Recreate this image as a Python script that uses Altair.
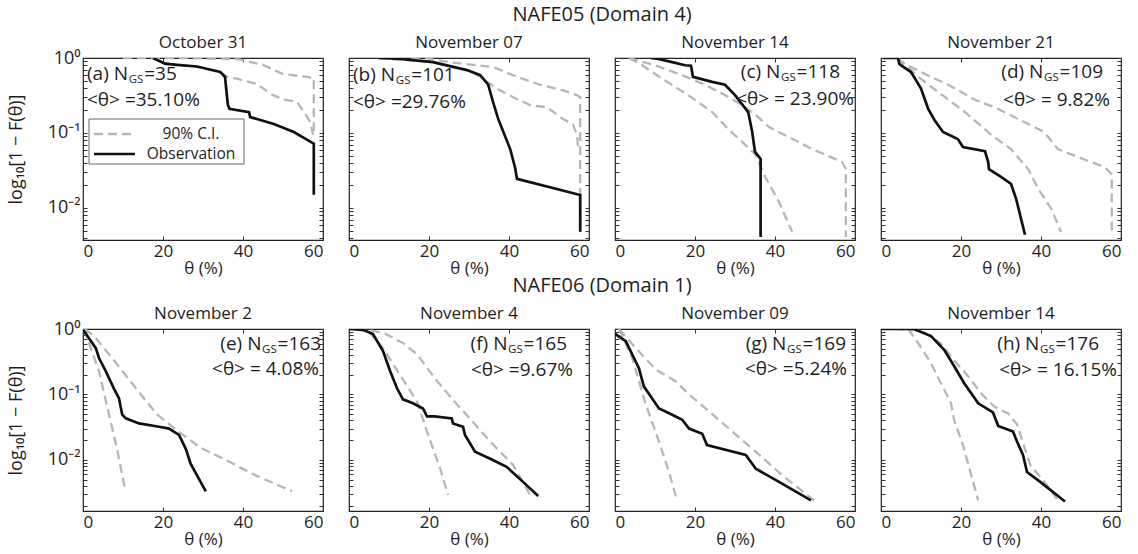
import altair as alt
import pandas as pd

FONT = "Open Sans"
TXT = "#1e1e1e"
GRAY = "#b6b6b6"
BLACK = "#111111"
W, H = 240, 182
YMIN_TOP = 0.00374
YMIN_BOT = 0.00165
AF = 19  # annotation font size

row_titles = ["NAFE05 (Domain 4)", "NAFE06 (Domain 1)"]
dates = ["October 31", "November 07", "November 14", "November 21",
         "November 2", "November 4", "November 09", "November 14"]
letters = ["a", "b", "c", "d", "e", "f", "g", "h"]
n_gs = [35, 101, 118, 109, 163, 165, 169, 176]
mean_txt = ["<θ> =35.10%", "<θ> =29.76%", "<θ> = 23.90%", "<θ> = 9.82%",
            "<θ> = 4.08%", "<θ> =9.67%", "<θ> =5.24%", "<θ> = 16.15%"]

# ---- panel (a)
a_obs_t = [17.5, 20.5, 23.5, 28.5, 34.3, 35.5, 36.2, 36.6, 41.5, 41.8, 47.7, 52.7, 57.7, 57.7]
a_obs_v = [1.0, 0.84, 0.81, 0.77, 0.65, 0.56, 0.24, 0.21, 0.19, 0.163, 0.132, 0.103, 0.072, 0.015]
a_up_t = [10, 25, 39, 45, 50, 56, 57.7, 57.7]
a_up_v = [1.0, 1.0, 0.96, 0.81, 0.61, 0.56, 0.54, 0.095]
a_lo_t = [17.5, 20.5, 28.5, 34.3, 36, 38.5, 43.5, 47, 50, 53.5, 55, 56.8, 57.5]
a_lo_v = [1.0, 0.84, 0.77, 0.65, 0.56, 0.53, 0.45, 0.33, 0.28, 0.26, 0.2, 0.14, 0.095]
# ---- panel (b)
b_obs_t = [7.3, 12.8, 21, 29.5, 32.8, 34.8, 36, 37.3, 38.6, 40.3, 41.5, 42, 57.8, 57.8]
b_obs_v = [1.0, 0.97, 0.88, 0.69, 0.59, 0.44, 0.26, 0.154, 0.103, 0.061, 0.035, 0.0245, 0.0149, 0.0048]
b_up_t = [12, 19.5, 25, 36, 42, 47.8, 53.5, 57, 57.8, 57.8]
b_up_v = [1.0, 0.99, 0.88, 0.76, 0.56, 0.44, 0.37, 0.32, 0.3, 0.0048]
b_lo_t = [7.3, 21, 29.5, 33, 35, 37, 41, 45.3, 49.5, 53.5, 56, 57, 57.3]
b_lo_v = [1.0, 0.88, 0.69, 0.56, 0.46, 0.39, 0.30, 0.236, 0.22, 0.154, 0.13, 0.094, 0.061]
# ---- panel (c)
c_obs_t = [9, 10.8, 14.3, 17.5, 19, 19.5, 24.3, 27.5, 30, 33.3, 34.3, 35, 36.4, 36.4]
c_obs_v = [1.0, 0.97, 0.88, 0.8, 0.79, 0.56, 0.48, 0.44, 0.32, 0.19, 0.103, 0.056, 0.045, 0.0041]
c_up_t = [3.5, 10, 16.8, 22.5, 27.5, 31.8, 35.8, 38.5, 43.5, 49.3, 56.8, 57.7, 57.7]
c_up_v = [1.0, 0.8, 0.59, 0.44, 0.32, 0.236, 0.163, 0.12, 0.088, 0.061, 0.041, 0.033, 0.0041]
c_lo_t = [3.5, 6.8, 11.8, 18.3, 24.3, 28.3, 31.8, 35.2, 37.3, 41, 44.3]
c_lo_v = [1.0, 0.8, 0.53, 0.32, 0.19, 0.113, 0.076, 0.051, 0.0275, 0.012, 0.0048]
# ---- panel (d)
d_obs_t = [0.5, 4.25, 4.6, 7.5, 10, 11.8, 13.4, 15.5, 19.2, 20.5, 26, 26.8, 27, 30, 32.5, 33.8, 36]
d_obs_v = [1.0, 1.0, 0.83, 0.65, 0.39, 0.21, 0.148, 0.103, 0.083, 0.065, 0.057, 0.041, 0.033, 0.026, 0.021, 0.0131, 0.0044]
d_up_t = [4.25, 5, 11, 16.8, 23.4, 29.2, 35.8, 40.8, 44.2, 51, 56, 57.7, 57.7]
d_up_v = [1.0, 0.88, 0.61, 0.44, 0.28, 0.21, 0.14, 0.103, 0.061, 0.044, 0.035, 0.028, 0.0044]
d_lo_t = [4.25, 9.3, 16, 21, 27.6, 32.5, 36.8, 39.3, 42.6, 45]
d_lo_v = [1.0, 0.56, 0.30, 0.19, 0.094, 0.061, 0.033, 0.018, 0.0097, 0.0048]
# ---- panel (e)
e_obs_t = [0, 0.25, 3.2, 4, 5.7, 7.7, 9, 9.8, 10.7, 14, 19, 21.5, 24, 25.7, 26.9, 30.7]
e_obs_v = [0.97, 0.93, 0.51, 0.36, 0.226, 0.124, 0.087, 0.049, 0.043, 0.036, 0.032, 0.030, 0.024, 0.0147, 0.0087, 0.0033]
e_up_t = [0.5, 3, 6.5, 9.8, 15.7, 18.6, 23.2, 29.4, 36.5, 42.8, 52.3]
e_up_v = [1.0, 0.75, 0.41, 0.23, 0.08, 0.049, 0.029, 0.0153, 0.0094, 0.0059, 0.0033]
e_lo_t = [0.2, 2, 4, 6.5, 8.5, 10.5]
e_lo_v = [1.0, 0.5, 0.226, 0.049, 0.0147, 0.0036]
# ---- panel (f)
f_obs_t = [0, 3.5, 6, 8.5, 10.3, 12, 13.5, 16, 18.5, 19.5, 21.4, 25.7, 26, 28.5, 29, 31.5, 35.3, 39.4, 43.5, 47.3]
f_obs_v = [1.0, 0.97, 0.84, 0.46, 0.226, 0.124, 0.084, 0.073, 0.061, 0.046, 0.046, 0.043, 0.036, 0.032, 0.024, 0.0133, 0.0104, 0.0078, 0.0046, 0.0028]
f_up_t = [2, 5, 9, 13.5, 17, 22, 27, 30.2, 35.3, 41, 45.3]
f_up_v = [1.0, 0.97, 0.85, 0.61, 0.41, 0.16, 0.070, 0.043, 0.019, 0.0084, 0.0029]
f_lo_t = [1.5, 5, 8.5, 12.7, 17, 19.5, 22.8, 24.8]
f_lo_v = [1.0, 0.9, 0.51, 0.2, 0.078, 0.027, 0.0073, 0.0029]
# ---- panel (g)
g_obs_t = [0, 2.7, 6, 7.2, 11, 14.3, 16.8, 18.5, 21.8, 23, 32.7, 35.2, 41, 49]
g_obs_v = [0.84, 0.65, 0.25, 0.133, 0.061, 0.049, 0.041, 0.030, 0.025, 0.0168, 0.0119, 0.0073, 0.0046, 0.0024]
g_up_t = [1, 5.2, 10.2, 15.2, 18.5, 23.5, 28.5, 35.2, 41.8, 49.8]
g_up_v = [1.0, 0.51, 0.24, 0.158, 0.1, 0.055, 0.030, 0.0133, 0.0058, 0.0024]
g_lo_t = [1, 4.3, 7.7, 11, 13.5, 15.5]
g_lo_v = [1.0, 0.36, 0.070, 0.019, 0.0065, 0.0024]
# ---- panel (h)
h_obs_t = [0, 8.2, 12.5, 15.8, 18.3, 20.8, 24.3, 28, 29.3, 33, 34, 35.5, 36.5, 39.8, 46]
h_obs_v = [1.0, 1.0, 0.78, 0.48, 0.27, 0.148, 0.073, 0.053, 0.033, 0.027, 0.019, 0.0119, 0.0065, 0.0046, 0.0023]
h_up_t = [3.8, 10, 15, 18.3, 21.8, 25, 28.3, 31.8, 34, 37.3, 41.5, 44]
h_up_v = [1.0, 0.95, 0.6, 0.33, 0.19, 0.104, 0.065, 0.051, 0.035, 0.0084, 0.0041, 0.0025]
h_lo_t = [6.8, 9.3, 12.5, 15, 17.5, 18.3, 20.5, 24.3]
h_lo_v = [1.0, 0.61, 0.30, 0.148, 0.073, 0.04, 0.0168, 0.0024]

panels = [
    (a_obs_t, a_obs_v, a_up_t, a_up_v, a_lo_t, a_lo_v),
    (b_obs_t, b_obs_v, b_up_t, b_up_v, b_lo_t, b_lo_v),
    (c_obs_t, c_obs_v, c_up_t, c_up_v, c_lo_t, c_lo_v),
    (d_obs_t, d_obs_v, d_up_t, d_up_v, d_lo_t, d_lo_v),
    (e_obs_t, e_obs_v, e_up_t, e_up_v, e_lo_t, e_lo_v),
    (f_obs_t, f_obs_v, f_up_t, f_up_v, f_lo_t, f_lo_v),
    (g_obs_t, g_obs_v, g_up_t, g_up_v, g_lo_t, g_lo_v),
    (h_obs_t, h_obs_v, h_up_t, h_up_v, h_lo_t, h_lo_v),
]

# annotation placement: (side, x line1, y line1, x line2, y line2)
ann_pos = [
    ("left", 4, 16, 4, 42),
    ("left", 4, 17, 4, 44),
    ("right", W - 15, 14, W - 1, 41),
    ("right", W - 18, 14, W - 11, 42),
    ("right", W - 2, 15, W - 4, 40),
    ("right", W - 22, 15, W - 16, 41),
    ("right", W - 9, 15, W - 8, 40),
    ("right", W - 22, 15, W - 4, 41),
]

CW = {"(": 0.296, ")": 0.296, "a": 0.556, "b": 0.613, "c": 0.48, "d": 0.613,
      "e": 0.561, "f": 0.336, "g": 0.545, "h": 0.614, " ": 0.26, "N": 0.76,
      "G": 0.71, "S": 0.55, "=": 0.571}


def tw(s, size):
    return sum(CW.get(ch, 0.571) for ch in s) * size


dummy = pd.DataFrame({"k": [0]})


def txt(s, x, y, size, align="left"):
    return alt.Chart(dummy).mark_text(text=s, align=align, baseline="middle",
                                      fontSize=size, font=FONT, color=TXT).encode(
        x=alt.value(x), y=alt.value(y))


YT = [m * 10.0 ** e for e in (-3, -2, -1) for m in range(1, 10)] + [1.0]
LBL = ("datum.value > 0.99 ? '10⁰' : (datum.value > 0.099 && datum.value < 0.101) ? '10⁻¹' : "
       "(datum.value > 0.0099 && datum.value < 0.0101) ? '10⁻²' : ''")


def make_panel(k):
    obs_t, obs_v, up_t, up_v, lo_t, lo_v = panels[k]
    rows = []
    for s, ts, vs in (("upper", up_t, up_v), ("lower", lo_t, lo_v), ("obs", obs_t, obs_v)):
        for i, (t, v) in enumerate(zip(ts, vs)):
            rows.append({"theta": t, "val": v, "series": s, "i": i})
    df = pd.DataFrame(rows)
    ymin = YMIN_TOP if k < 4 else YMIN_BOT
    first = k % 4 == 0
    xsc = alt.Scale(domain=[0, 60], nice=False, zero=False)
    ysc = alt.Scale(type="log", domain=[ymin, 1], nice=False)
    yvals = [v for v in YT if v >= ymin]
    xax = alt.Axis(values=[0, 20, 40, 60], format="d", orient="bottom", offset=-4,
                   domain=False, grid=False, tickSize=4, tickColor="#333",
                   labelPadding=3, labelFontSize=17, labelColor=TXT, labelFont=FONT,
                   title="θ (%)", titleFontSize=17, titleFont=FONT, titleColor=TXT,
                   titleFontWeight="normal", titlePadding=1)
    yax = alt.Axis(values=yvals, orient="left", offset=-4, domain=False, grid=False,
                   tickSize=4, tickColor="#333", labels=first, labelExpr=LBL,
                   labelOverlap=False, labelPadding=3, labelFontSize=18,
                   labelColor=TXT, labelFont=FONT,
                   title="log₁₀[1 − F(θ)]" if first else None,
                   titleFontSize=18, titleFont=FONT, titleColor=TXT,
                   titleFontWeight="normal", titlePadding=22)
    xtop = alt.Axis(values=[0, 20, 40, 60], orient="top", offset=-4, domain=False,
                    grid=False, tickSize=4, tickColor="#333", labels=False, title=None)
    yright = alt.Axis(values=yvals, orient="right", offset=-4, domain=False, grid=False,
                      tickSize=4, tickColor="#333", labels=False, title=None)
    ci = alt.Chart(df).transform_filter(alt.datum.series != "obs").mark_line(
        color=GRAY, strokeDash=[9, 5], strokeWidth=2.3, clip=True).encode(
        x=alt.X("theta:Q", scale=xsc, axis=xax),
        y=alt.Y("val:Q", scale=ysc, axis=yax),
        detail="series:N", order="i:Q")
    obs = alt.Chart(df).transform_filter(alt.datum.series == "obs").mark_line(
        color=BLACK, strokeWidth=2.7, clip=True).encode(
        x=alt.X("theta:Q", scale=xsc, axis=xtop),
        y=alt.Y("val:Q", scale=ysc, axis=yright),
        order="i:Q")
    layers = [ci, obs]
    # date title above each panel
    layers.append(txt(dates[k], W / 2, -15, 17, align="center"))
    # row title, placed in the second column, centred over the whole row
    if k % 4 == 1:
        layers.append(txt(row_titles[k // 4], W + 13, -43, 20, align="center"))
    # annotations
    side, x1, y1, x2, y2 = ann_pos[k]
    pre, sub, suf = f"({letters[k]}) N", "GS", f"={n_gs[k]}"
    wp, ws, wf = tw(pre, AF), tw(sub, 11.5), tw(suf, AF)
    x0 = x1 if side == "left" else x1 - (wp + ws + wf + 1.5)
    layers += [txt(pre, x0, y1, AF), txt(sub, x0 + wp + 0.5, y1 + 6, 11.5),
               txt(suf, x0 + wp + ws + 1.5, y1, AF),
               txt(mean_txt[k], x2, y2, AF, align="left" if side == "left" else "right")]
    if k == 0:
        box = alt.Chart(dummy).mark_rect(fill="white", stroke="#555", strokeWidth=0.9).encode(
            x=alt.value(6), x2=alt.value(161), y=alt.value(61), y2=alt.value(106))
        r1 = alt.Chart(dummy).mark_rule(color=GRAY, strokeDash=[9, 5], strokeWidth=2.3).encode(
            x=alt.value(11), x2=alt.value(52), y=alt.value(76))
        r2 = alt.Chart(dummy).mark_rule(color=BLACK, strokeWidth=2.7).encode(
            x=alt.value(11), x2=alt.value(52), y=alt.value(96))
        layers += [box, r1, r2, txt("90% C.I.", 108, 76, 15.5, align="center"),
                   txt("Observation", 108, 96, 15.5, align="center")]
    return alt.layer(*layers).resolve_axis(x="independent", y="independent").properties(
        width=W, height=H)


chart = alt.concat(*[make_panel(k) for k in range(8)], columns=4,
                   spacing=alt.RowColnumber(row=89, column=26),
                   bounds="flush").configure_view(
    stroke="#222", strokeWidth=1.2).properties(
    padding={"left": 6, "top": 4, "right": 5, "bottom": 5})

chart.save("out.html", embed_options={"renderer": "svg", "actions": False})
